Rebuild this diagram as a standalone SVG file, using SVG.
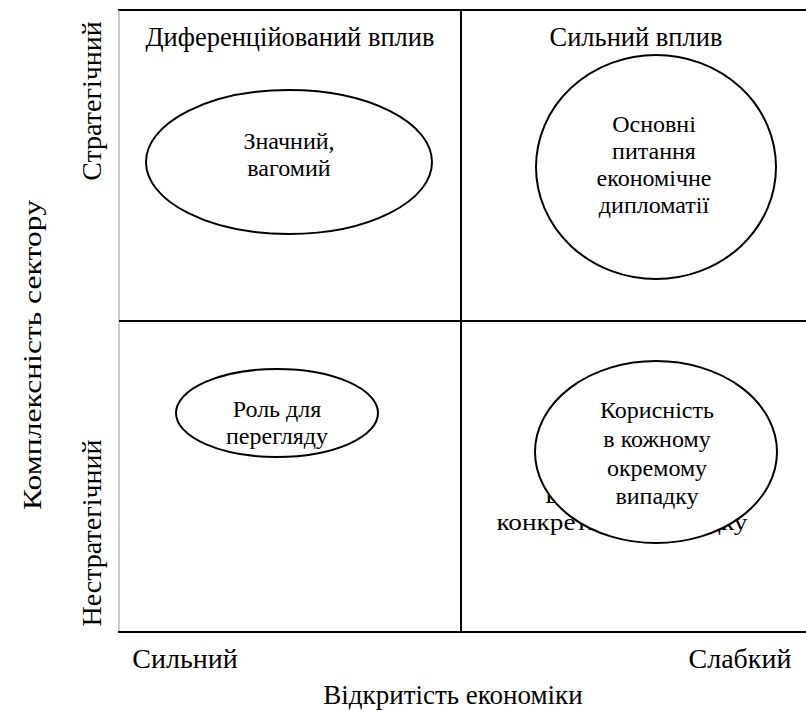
<svg xmlns="http://www.w3.org/2000/svg" width="806" height="711" viewBox="0 0 806 711">
<style>
text{font-size:24px;fill:#000;text-anchor:middle}
.h{font-size:26.5px}
.ax{font-size:28px}
.e{fill:#fff;stroke:#000;stroke-width:2}
.ln{stroke:#000;stroke-width:2;fill:none}
</style>
<rect width="806" height="711" fill="#fff"/>
<g id="grid">
<line class="ln" x1="118" y1="10" x2="806" y2="10"/>
<line x1="119" y1="10" x2="119" y2="632" stroke="#999" stroke-width="1"/>
<line class="ln" x1="461" y1="10" x2="461" y2="632"/>
<line class="ln" x1="119" y1="321" x2="806" y2="321"/>
<line class="ln" x1="118" y1="632" x2="806" y2="632"/>
</g>
<g font-family="Liberation Serif, Times New Roman, serif">
<g id="headers">
<text class="h" x="290" y="46">Диференційований вплив</text>
<text class="h" x="636" y="46">Сильний вплив</text>
</g>
<g id="hidden-text">
<text x="553" y="503">В</text>
<text x="622" y="530" textLength="251" lengthAdjust="spacingAndGlyphs">конкретному випадку</text>
</g>
<g id="node-tl">
<ellipse class="e" cx="289" cy="162" rx="143" ry="72"/>
<text x="289" y="149">Значний,</text>
<text x="289" y="176">вагомий</text>
</g>
<g id="node-tr">
<ellipse class="e" cx="656" cy="167" rx="120" ry="112"/>
<text x="654" y="132">Основні</text>
<text x="654" y="159">питання</text>
<text x="654" y="186">економічне</text>
<text x="654" y="213">дипломатії</text>
</g>
<g id="node-bl">
<ellipse class="e" cx="277" cy="413" rx="101" ry="44"/>
<text x="277" y="417">Роль для</text>
<text x="277" y="444">перегляду</text>
</g>
<g id="node-br">
<ellipse class="e" cx="656" cy="452" rx="121" ry="91"/>
<text x="657" y="418">Корисність</text>
<text x="657" y="447">в кожному</text>
<text x="657" y="476">окремому</text>
<text x="657" y="504">випадку</text>
</g>
<g id="axes">
<text class="ax" transform="translate(101,101) rotate(-90)">Стратегічний</text>
<text class="ax" transform="translate(101,533) rotate(-90)">Нестратегічний</text>
<text style="font-size:25px" textLength="310" lengthAdjust="spacingAndGlyphs" transform="translate(41,355) rotate(-90)">Комплексність сектору</text>
<text class="ax" x="185" y="668">Сильний</text>
<text class="ax" x="740" y="668">Слабкий</text>
<text class="ax" style="font-size:27px" x="453" y="704">Відкритість економіки</text>
</g>
</g>
</svg>
